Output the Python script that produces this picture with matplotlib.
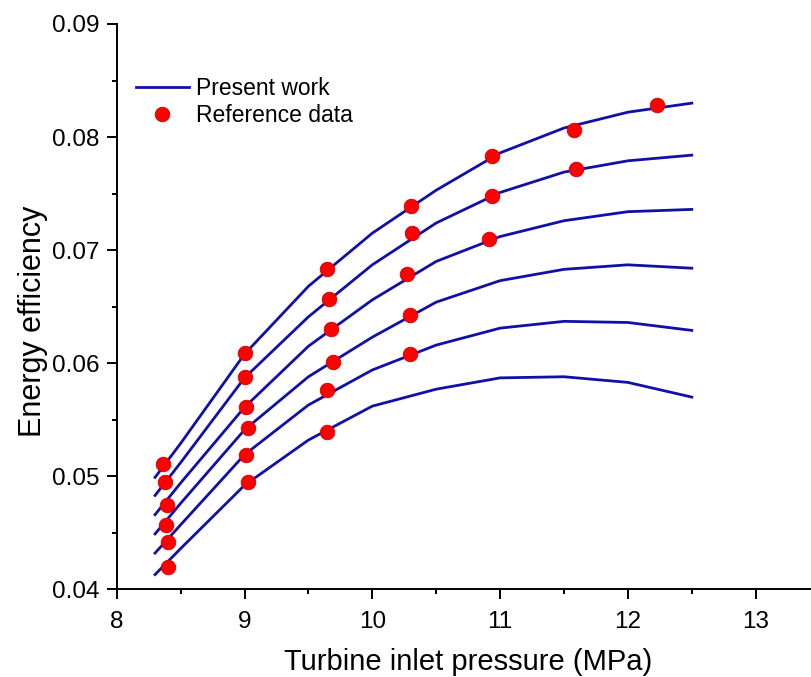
import matplotlib
matplotlib.use('Agg')
import matplotlib.pyplot as plt
from matplotlib.ticker import MultipleLocator

plt.rcParams['font.family'] = ['Liberation Sans', 'DejaVu Sans']

# model curves ("Present work")
p_model = [8.3, 8.5, 9.0, 9.5, 10.0, 10.5, 11.0, 11.5, 12.0, 12.5]
eff_1 = [0.0499, 0.0529, 0.0608, 0.0668, 0.0715, 0.0753, 0.0786, 0.0808, 0.0822, 0.0830]
eff_2 = [0.0483, 0.0512, 0.0587, 0.0641, 0.0687, 0.0724, 0.0751, 0.0769, 0.0779, 0.0784]
eff_3 = [0.0466, 0.0494, 0.0561, 0.0615, 0.0656, 0.0690, 0.0712, 0.0726, 0.0734, 0.0736]
eff_4 = [0.0449, 0.0476, 0.0541, 0.0588, 0.0623, 0.0654, 0.0673, 0.0683, 0.0687, 0.0684]
eff_5 = [0.0432, 0.0457, 0.0519, 0.0563, 0.0594, 0.0616, 0.0631, 0.0637, 0.0636, 0.0629]
eff_6 = [0.0413, 0.0436, 0.0492, 0.0532, 0.0562, 0.0577, 0.0587, 0.0588, 0.0583, 0.0570]

# reference data points
ref_p_1 = [8.365, 9.004, 9.648, 10.303, 10.94, 11.576, 12.23]
ref_e_1 = [0.0511, 0.0609, 0.0683, 0.0739, 0.0783, 0.0806, 0.0828]
ref_p_2 = [8.378, 9.006, 9.661, 10.311, 10.94, 11.59]
ref_e_2 = [0.0495, 0.0588, 0.0657, 0.0715, 0.0748, 0.0772]
ref_p_3 = [8.396, 9.012, 9.677, 10.274, 10.91]
ref_e_3 = [0.0475, 0.0561, 0.0630, 0.0679, 0.0710]
ref_p_4 = [8.383, 9.027, 9.695, 10.295]
ref_e_4 = [0.0457, 0.0543, 0.0601, 0.0643]
ref_p_5 = [8.40, 9.012, 9.648, 10.295]
ref_e_5 = [0.0442, 0.0519, 0.0576, 0.0608]
ref_p_6 = [8.40, 9.025, 9.648]
ref_e_6 = [0.0420, 0.0495, 0.0539]

model = [eff_1, eff_2, eff_3, eff_4, eff_5, eff_6]
ref = [(ref_p_1, ref_e_1), (ref_p_2, ref_e_2), (ref_p_3, ref_e_3),
       (ref_p_4, ref_e_4), (ref_p_5, ref_e_5), (ref_p_6, ref_e_6)]

W, H = 811, 677
fig = plt.figure(figsize=(W / 100, H / 100), dpi=100)
# axes run past the right edge of the picture, as in the original crop
x0, y0 = 116.7, 589.3
ax_w, ax_h = 6 * 127.8, y0 - 24
ax = fig.add_axes([x0 / W, (H - y0) / H, ax_w / W, ax_h / H])

line_col = '#1010a8'
for i, e in enumerate(model):
    ax.plot(p_model, e, color=line_col, lw=2.0,
            label='Present work' if i == 0 else None, zorder=2)
for i, (p, e) in enumerate(ref):
    ax.plot(p, e, 'o', color='#ff0000', mec='#d00000', mew=0.6, ms=10.5,
            label='Reference data' if i == 0 else None, zorder=3)

ax.set_xlim(8, 14)
ax.set_ylim(0.04, 0.09)
ax.set_xticks([8, 9, 10, 11, 12, 13])
ax.set_yticks([0.04, 0.05, 0.06, 0.07, 0.08, 0.09])
ax.set_yticklabels(['0.04', '0.05', '0.06', '0.07', '0.08', '0.09'])
ax.xaxis.set_minor_locator(MultipleLocator(0.5))
ax.yaxis.set_minor_locator(MultipleLocator(0.005))

for s in ['top', 'right']:
    ax.spines[s].set_visible(False)
for s in ['left', 'bottom']:
    ax.spines[s].set_linewidth(1.4)
ax.tick_params(which='major', direction='out', length=7.5, width=1.4,
               labelsize=17.5)
ax.tick_params(which='minor', direction='out', length=3.5, width=1.4)
ax.tick_params(axis='x', which='major', pad=8)
ax.tick_params(axis='y', which='major', pad=5)

ax.set_xlabel('Turbine inlet pressure (MPa)', fontsize=21)
ax.set_ylabel('Energy efficiency', fontsize=22)
ax.xaxis.set_label_coords((468 - x0) / ax_w, -(648 - y0) / ax_h)
ax.yaxis.set_label_coords(-(x0 - 48) / ax_w, (y0 - 321) / ax_h)

ax.legend(loc='upper left', bbox_to_anchor=(136 / W, 1 - 77 / H),
          bbox_transform=fig.transFigure, frameon=False, fontsize=16.5,
          handlelength=2.3, handletextpad=0.3, labelspacing=0.18,
          borderpad=0, borderaxespad=0)

fig.savefig('out.png', dpi=100)
